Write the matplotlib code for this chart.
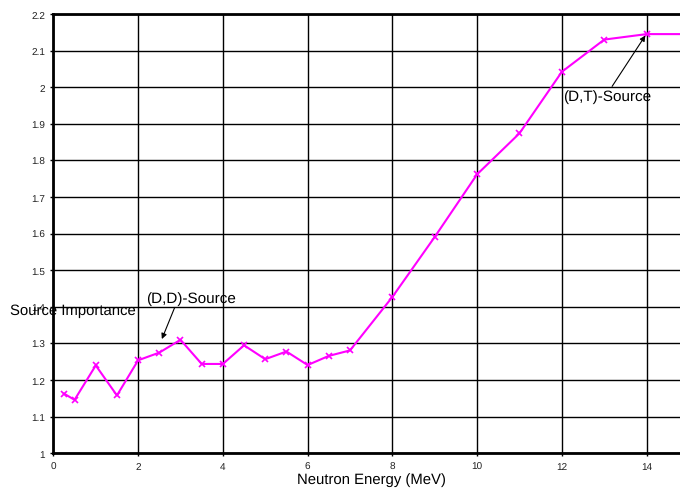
import matplotlib
matplotlib.use('Agg')
import matplotlib.pyplot as plt

plt.rcParams['font.family'] = ['Liberation Sans', 'DejaVu Sans']
plt.rcParams['text.hinting'] = 'no_hinting'

# Source importance vs. neutron energy
energy = [0.25, 0.5, 1, 1.5, 2, 2.5, 3, 3.5, 4, 4.5, 5, 5.5, 6, 6.5, 7,
          8, 9, 10, 11, 12, 13, 14, 15]
importance = [1.163, 1.146, 1.240, 1.158, 1.254, 1.275, 1.310, 1.244, 1.244,
              1.295, 1.257, 1.278, 1.241, 1.266, 1.281,
              1.427, 1.591, 1.762, 1.874, 2.042, 2.130, 2.145, 2.145]
x_ticks = [0, 2, 4, 6, 8, 10, 12, 14]
y_ticks = [1, 1.1, 1.2, 1.3, 1.4, 1.5, 1.6, 1.7, 1.8, 1.9, 2, 2.1, 2.2]
y_tick_labels = ['1', '1.1', '1.2', '1.3', '1.4', '1.5', '1.6', '1.7', '1.8',
                 '1.9', '2', '2.1', '2.2']

fig = plt.figure(figsize=(6.8, 4.89), dpi=100)
# axes runs a little past the right edge, so the right frame is cut off
ax = fig.add_axes([0.0785, 0.071, 0.9347, 0.8984])

ax.plot(energy, importance, color='#ff00ff', lw=1.5, marker='x',
        markersize=4, markeredgewidth=1.2, zorder=3, clip_on=False)

ax.set_xlim(0, 15)
ax.set_ylim(1, 2.2)
ax.set_xticks(x_ticks)
ax.set_yticks(y_ticks)
ax.set_yticklabels(y_tick_labels)
ax.tick_params(labelsize=7.2, labelcolor='#222222', length=2, width=1,
               direction='out', pad=4)
ax.grid(True, color='black', lw=1)
ax.set_axisbelow(True)
for side in ['left', 'bottom', 'top']:
    ax.spines[side].set_linewidth(2)

ax.set_xlabel('Neutron Energy (MeV)', fontsize=10.7, labelpad=1)
fig.text(10 / 680, 1 - 311 / 489, 'Source Importance', fontsize=10.7,
         va='center', ha='left')

ax.annotate('(D,D)-Source', xy=(2.56, 1.312), xytext=(2.19, 1.425),
            fontsize=11, va='center', ha='left',
            arrowprops=dict(arrowstyle='-|>', color='black', lw=0.8,
                            mutation_scale=8, shrinkA=0, shrinkB=0,
                            relpos=(0.33, 0.0)))
ax.annotate('(D,T)-Source', xy=(13.97, 2.141), xytext=(12.02, 1.9755),
            fontsize=11, va='center', ha='left',
            arrowprops=dict(arrowstyle='-|>', color='black', lw=0.8,
                            mutation_scale=8, shrinkA=0, shrinkB=0,
                            relpos=(0.54, 1.0)))

fig.savefig('out.png', dpi=100)
